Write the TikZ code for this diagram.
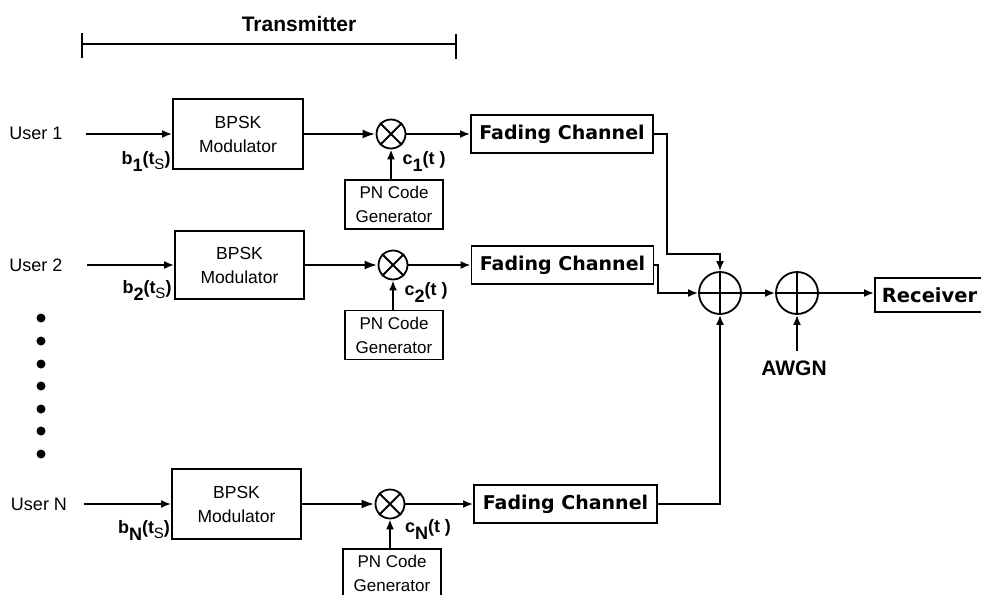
\documentclass[tikz,border=0pt]{standalone}
\usepackage{fontspec}
\setmainfont{Liberation Sans}
\newfontfamily\fadefont{DejaVu Sans}
\usetikzlibrary{arrows.meta}
\newcommand{\sgn}[5]{\textbf{#1}\raisebox{-7pt}{\textbf{#2}}\textbf{#3}\raisebox{-5pt}{\fontsize{15}{15}\selectfont #4}\textbf{#5}}
\tikzset{
  wire/.style={line width=1.9pt,-{Latex[length=10pt,width=8pt]}},
  thickwire/.style={line width=2.5pt,-{Latex[length=13pt,width=9pt]}},
  plain/.style={line width=1.8pt},
  modbox/.style={draw,line width=1.8pt,minimum width=130pt,minimum height=70pt,inner sep=0pt,align=center,font=\fontsize{17.5}{24}\selectfont},
  pnbox/.style={draw,line width=1.8pt,minimum width=98pt,minimum height=49pt,inner sep=0pt,align=center,font=\fontsize{17}{24}\selectfont},
  fadebox/.style={draw,line width=1.9pt,minimum width=182pt,minimum height=38pt,inner sep=0pt,font=\fadefont\bfseries\fontsize{19}{22}\selectfont},
  mult/.style={draw,circle,line width=1.8pt,minimum size=29pt,inner sep=0pt},
  summer/.style={draw,circle,line width=1.8pt,minimum size=42pt,inner sep=0pt},
  lab/.style={inner sep=0pt,font=\fontsize{18}{20}\selectfont},
  blab/.style={inner sep=0pt,font=\bfseries\fontsize{21}{24}\selectfont},
  dot/.style={circle,fill=black,minimum size=9pt,inner sep=0pt},
}
\begin{document}
\begin{tikzpicture}[x=1pt,y=-1pt]
\useasboundingbox[fill=white] (0,0) rectangle (981,594);
% Transmitter bracket
\node[blab] (tx) at (299,24) {Transmitter};
\coordinate (bl) at (82,44); \coordinate (br) at (456,44);
\coordinate (blt) at (82,33); \coordinate (blb) at (82,58);
\coordinate (brt) at (456,34); \coordinate (brb) at (456,59);
\draw[line width=2.5pt] (bl) -- (br);
\draw[line width=2.5pt] (blt) -- (blb);
\draw[line width=2.5pt] (brt) -- (brb);
% Row 1
\node[lab] (u1) at (36,133) {User 1};
\coordinate (in1) at (86,134);
\node[modbox] (mod1) at (238,134) {BPSK\\Modulator};
\node[mult] (mul1) at (391,134) {};
\node[pnbox] (pn1) at (394,204.5) {PN Code\\Generator};
\node[fadebox] (fade1) at (562,134) {Fading Channel};
\node[lab] (b1) at (146,161) {\sgn{b}{1}{(t}{S}{)}};
\node[lab] (c1) at (424,161) {\sgn{c}{1}{(t )}{}{}};
% Row 2
\node[lab] (u2) at (36,265) {User 2};
\coordinate (in2) at (87,265);
\node[modbox,minimum width=129pt,minimum height=68pt] (mod2) at (239.5,265) {BPSK\\Modulator};
\node[mult] (mul2) at (393,265) {};
\node[pnbox] (pn2) at (394,335) {PN Code\\Generator};
\node[fadebox] (fade2) at (562.5,265) {Fading Channel};
\node[lab] (b2) at (147,290) {\sgn{b}{2}{(t}{S}{)}};
\node[lab] (c2) at (426,292) {\sgn{c}{2}{(t )}{}{}};
% Dots
\foreach \i/\y in {1/318,2/341,3/364,4/386,5/409,6/431,7/454}
  \node[dot] (d\i) at (41,\y) {};
% Row N
\node[lab] (uN) at (39,504) {User N};
\coordinate (inN) at (84,504);
\node[modbox,minimum width=129pt] (modN) at (236.5,504) {BPSK\\Modulator};
\node[mult] (mulN) at (390,504) {};
\node[pnbox,minimum height=48pt] (pnN) at (392,573) {PN Code\\Generator};
\node[fadebox,minimum width=183pt] (fadeN) at (565.5,504) {Fading Channel};
\node[lab] (bN) at (144,530) {\sgn{b}{N}{(t}{S}{)}};
\node[lab] (cN) at (428,529) {\sgn{c}{N}{(t )}{}{}};
% Multiplier crosses and row connectors
\foreach \r in {1,2,N}{
  \draw[plain] (mul\r.45) -- (mul\r.225);
  \draw[plain] (mul\r.135) -- (mul\r.315);
  \draw[wire] (in\r) -- (mod\r.west);
  \draw[thickwire] (mod\r.east) -- (mul\r.west);
  \draw[wire] (mul\r.east) -- (fade\r.west);
  \draw[wire] (mul\r.south |- pn\r.north) -- (mul\r.south);
}
% Summers
\node[summer] (s1) at (720,293) {};
\node[summer] (s2) at (797,293) {};
\draw[plain] (s1.north) -- (s1.south);
\draw[plain] (s1.west) -- (s1.east);
\draw[plain] (s2.north) -- (s2.south);
\draw[plain] (s2.west) -- (s2.east);
\node[fadebox,anchor=west,minimum width=120pt,minimum height=34pt,text width=114pt,align=left,font=\fadefont\bfseries\fontsize{19.5}{22}\selectfont] (rx) at (874,295) {\hspace*{4pt}Receiver};
\node[blab] (awgn) at (794,368) {AWGN};
\coordinate (a0) at (797,351);
\coordinate (j1) at (667,254);
\coordinate (j2) at (658,293);
\draw[wire] (fade1.east) -| (j1) -| (s1.north);
\draw[wire] (fade2.east) -| (j2) -- (s1.west);
\draw[wire] (fadeN.east) -| (s1.south);
\draw[wire] (s1.east) -- (s2.west);
\draw[wire] (s2.east) -- (s2.east -| rx.west);
\draw[wire] (a0) -- (s2.south);
\end{tikzpicture}
\end{document}
